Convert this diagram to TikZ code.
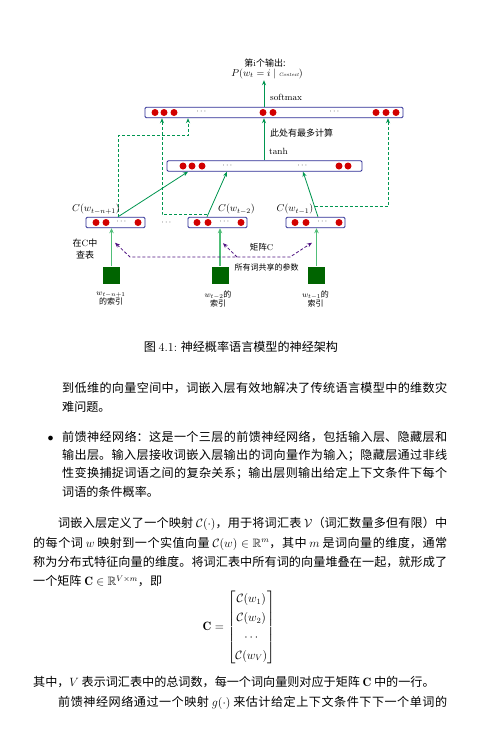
\documentclass[tikz,border=0pt]{standalone}
\usepackage{amsmath,amssymb}
\usepackage{fontspec}
\newfontfamily\cjk{Noto Sans CJK SC}
\usetikzlibrary{arrows.meta,calc}
\definecolor{boxblue}{RGB}{45,45,150}
\definecolor{dotred}{RGB}{210,0,0}
\definecolor{ggreen}{RGB}{0,150,80}
\definecolor{lgreen}{RGB}{80,190,120}
\definecolor{sqgreen}{RGB}{0,100,0}
\definecolor{ppurple}{RGB}{80,20,130}
\newcommand\jl[2]{\parbox[t]{#1}{\XeTeXlinebreaklocale "zh"\XeTeXlinebreakskip=0pt plus 6pt\XeTeXlinebreakpenalty=10000 \parfillskip=0pt\relax #2}}
\begin{document}
\begin{tikzpicture}[x=1pt,y=-1pt,
  layer/.style={draw=boxblue, line width=0.9pt, rounded corners=1.2pt, fill=white, inner sep=0, minimum height=10.5pt},
  rdot/.style={circle, fill=dotred, inner sep=0, minimum size=7pt},
  cdt/.style={font=\fontsize{8}{8}\selectfont, inner sep=0},
  garr/.style={draw=ggreen, line width=0.8pt, -{Stealth[length=5pt,width=4pt]}},
  gdash/.style={garr, dash pattern=on 3pt off 2pt},
  larr/.style={draw=lgreen, line width=1.3pt, -{Stealth[length=5pt,width=4.5pt]}},
  pdash/.style={draw=ppurple, line width=0.8pt, dash pattern=on 3pt off 2pt},
  sq/.style={fill=sqgreen, minimum size=17pt, inner sep=0},
  lbl/.style={inner sep=0, font=\fontsize{9}{10}\selectfont},
  clbl/.style={inner sep=0, font=\cjk\fontsize{8.5}{10}\selectfont, align=center},
  body/.style={inner sep=0, anchor=base west, font=\cjk\fontsize{12.1}{14.5}\selectfont}]
\fill[white] (0,0) rectangle (486,748);
\useasboundingbox (0,0) rectangle (486,748);

% layers
\node[layer, minimum width=258pt] (top) at (274,112.5) {};
\node[layer, minimum width=195pt] (mid) at (264.5,166) {};
\node[layer, minimum width=59pt] (b1) at (115.5,222.5) {};
\node[layer, minimum width=59pt] (b2) at (217.5,222.5) {};
\node[layer, minimum width=59pt] (b3) at (315.5,222.5) {};

\foreach \x [count=\i] in {155,164,174,263,273,376,386,396} \node[rdot] (td\i) at (\x,112.5) {};
\node[cdt] (tc1) at (202,112) {$\cdots$};
\node[cdt] (tc2) at (335,112) {$\cdots$};
\foreach \x [count=\i] in {183,192,202,339,348} \node[rdot] (md\i) at (\x,166) {};
\node[cdt] (mc1) at (228,165.5) {$\cdots$};
\node[cdt] (mc2) at (303,165.5) {$\cdots$};
\foreach \x [count=\i] in {96,106,138} \node[rdot] (ad\i) at (\x,222.5) {};
\foreach \x [count=\i] in {197,208,241} \node[rdot] (bd\i) at (\x,222.5) {};
\foreach \x [count=\i] in {295,306,339} \node[rdot] (cd\i) at (\x,222.5) {};
\node[cdt] (ac) at (122,222) {$\cdots$};
\node[cdt] (bc) at (225,222) {$\cdots$};
\node[cdt] (cc) at (323,222) {$\cdots$};
\node[cdt] (gap) at (167,222.5) {$\cdots$};

% title
\node[clbl, font=\cjk\fontsize{9}{10}\selectfont] (ttl1) at (265,63) {第{\rmfamily i}个输出:};
\node[lbl, font=\fontsize{10}{10}\selectfont] (ttl2) at (267,73.5) {$P(w_t = i \mid \text{\tiny\itshape Context})$};
\coordinate (sx) at (264,0);
\draw[garr, shorten >=1.5pt] (top.north -| sx) -- (ttl2.south -| sx);
\node[lbl, anchor=west] (smx) at (270,97) {softmax};
\draw[garr] (mid.north -| sx) -- (top.south -| sx);
\node[clbl, font=\cjk\fontsize{9}{10}\selectfont, anchor=west] (cmp) at (270,133) {此处有最多计算};
\node[lbl, anchor=west] (tnh) at (269,151) {tanh};

% embeddings to hidden
\coordinate (a1) at ([xshift=2.5pt]b1.north);
\coordinate (a2) at ([xshift=-10.5pt]b2.north);
\coordinate (a3) at ([xshift=2.5pt]b3.north);
\coordinate (m1) at ([xshift=-76.5pt]mid.south);
\coordinate (m2) at ([xshift=-37.5pt]mid.south);
\coordinate (m3) at ([xshift=38.5pt]mid.south);
\draw[garr] (a1) -- (m1);
\draw[garr] (a2) -- (m2);
\draw[garr] (a3) -- (m3);

% direct connections (dashed)
\draw[gdash] (a1) -- ++(0,-81) -| ([xshift=-86pt]top.south);
\draw[gdash] ([yshift=2pt]a2) -| ([xshift=-112pt]top.south);
\draw[gdash] ($(a3)!0.22!(m3)$) -| ([xshift=114pt]top.south);

% labels C(w)
\node[lbl, font=\fontsize{10}{10}\selectfont] (cl1) at (96,209) {$C(w_{t-n+1})$};
\node[lbl, font=\fontsize{10}{10}\selectfont] (cl2) at (236.5,209) {$C(w_{t-2})$};
\node[lbl, font=\fontsize{10}{10}\selectfont] (cl3) at (295,209) {$C(w_{t-1})$};

% inputs
\node[sq] (s1) at (111.5,275) {};
\node[sq] (s2) at (220,275) {};
\node[sq] (s3) at (316.5,275) {};
\draw[larr] (s1.north) -- (s1.north |- b1.south);
\draw[larr] (s2.north) -- (s2.north |- b2.south);
\draw[larr] (s3.north) -- (s3.north |- b3.south);
\node[clbl, font=\cjk\fontsize{8}{9}\selectfont] (i1) at (111,298.5) {$w_{t-n+1}$\\的索引};
\node[clbl, font=\cjk\fontsize{8}{9}\selectfont] (i2) at (218,298.5) {$w_{t-2}$的\\索引};
\node[clbl, font=\cjk\fontsize{8}{9}\selectfont] (i3) at (315.5,298.5) {$w_{t-1}$的\\索引};
\node[clbl, font=\cjk\fontsize{9}{12}\selectfont] (lk) at (85,249) {在{\rmfamily C}中\\查表};

% shared matrix
\coordinate (pa1) at ([xshift=-0.5pt,yshift=-14.5pt]b1.south);
\coordinate (pa2) at ([xshift=5.5pt,yshift=-15pt]b2.south);
\coordinate (pa3) at ([xshift=-3.5pt,yshift=-14.5pt]b3.south);
\coordinate (pk1) at (130,257);
\coordinate (pk2) at (290,257);
\coordinate (pk3) at (237,257);
\draw[pdash, {Stealth[length=5pt,width=4pt]}-{Stealth[length=5pt,width=4pt]}] (pa1) -- (pk1) -- (pk2) -- (pa3);
\draw[pdash, -{Stealth[length=5pt,width=4pt]}] (pk3) -- (pa2);
\node[clbl] (mcl) at (261.5,247) {矩阵{\rmfamily C}};
\node[clbl, font=\cjk\fontsize{8}{9}\selectfont] (sh) at (266.5,267) {所有词共享的参数};

% caption and body text
\node[body, anchor=center] (cap) at (241,346.7) {图 {\rmfamily 4.1:} 神经概率语言模型的神经架构};
\node[body] (l1) at (62,392.9) {\jl{385pt}{到低维的向量空间中，词嵌入层有效地解决了传统语言模型中的维数灾}};
\node[body] (l2) at (62,411.9) {难问题。};
\node[body] (bul) at (47.5,441.3) {$\bullet$};
\node[body] (l3) at (62,441.3) {\jl{385pt}{前馈神经网络：这是一个三层的前馈神经网络，包括输入层、隐藏层和}};
\node[body] (l4) at (62,459.6) {\jl{385pt}{输出层。输入层接收词嵌入层输出的词向量作为输入；隐藏层通过非线}};
\node[body] (l5) at (62,477.9) {\jl{385pt}{性变换捕捉词语之间的复杂关系；输出层则输出给定上下文条件下每个}};
\node[body] (l6) at (62,496.3) {词语的条件概率。};
\node[body] (l7) at (58,527.9) {\jl{389pt}{词嵌入层定义了一个映射~$\mathcal{C}(\cdot)$，用于将词汇表~$\mathcal{V}$（词汇数量多但有限）中}};
\node[body] (l8) at (33,547.3) {\jl{414pt}{的每个词~$w$~映射到一个实值向量~$\mathcal{C}(w)\in\mathbb{R}^m$，其中~$m$~是词向量的维度，通常}};
\node[body] (l9) at (33,566.3) {\jl{414pt}{称为分布式特征向量的维度。将词汇表中所有词的向量堆叠在一起，就形成了}};
\node[body] (l10) at (33,585.6) {一个矩阵~$\mathbf{C}\in\mathbb{R}^{V\times m}$，即};
\node[body, anchor=center] (mat) at (239,627) {\renewcommand{\arraystretch}{1.3}$\mathbf{C} = \begin{bmatrix}\mathcal{C}(w_1)\\ \mathcal{C}(w_2)\\ \cdots \\ \mathcal{C}(w_V)\end{bmatrix}$};
\node[body] (l11) at (33,686.6) {其中，$V$~表示词汇表中的总词数，每一个词向量则对应于矩阵~$\mathbf{C}$~中的一行。};
\node[body] (l12) at (58,706.3) {\jl{389pt}{前馈神经网络通过一个映射~$g(\cdot)$~来估计给定上下文条件下下一个单词的}};
\end{tikzpicture}
\end{document}
